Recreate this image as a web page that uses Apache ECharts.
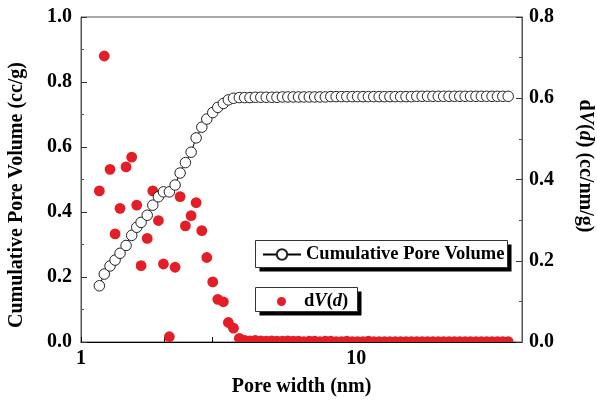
<!DOCTYPE html>
<html>
<head>
<meta charset="utf-8">
<script src="https://cdn.jsdelivr.net/npm/echarts@6/dist/echarts.min.js"></script>
<style>
  html, body { margin: 0; padding: 0; background: #fff; }
  #chart { width: 597px; height: 408px; }
</style>
</head>
<body>
<div id="chart"></div>
<script>
// Pore width (nm) of each point of the distribution
const poreWidth = [
  1.166, 1.215, 1.275, 1.33, 1.386, 1.458, 1.528, 1.594, 1.653, 1.74,
  1.823, 1.911, 1.993, 2.094, 2.197, 2.291, 2.395, 2.512, 2.62, 2.747,
  2.864, 3.01, 3.14, 3.29, 3.43, 3.58, 3.76, 3.93, 4.11, 4.30,
  4.50, 4.71, 4.93, 5.15, 5.39, 5.64, 5.90, 6.17, 6.45, 6.75,
  7.06, 7.38, 7.72, 8.08, 8.45, 8.84, 9.24, 9.67, 10.11, 10.58,
  11.07, 11.57, 12.11, 12.66, 13.25, 13.86, 14.49, 15.16, 15.86, 16.59,
  17.35, 18.15, 18.98, 19.86, 20.77, 21.73, 22.73, 23.77, 24.87, 26.01,
  27.21, 28.46, 29.77, 31.14, 32.57, 34.07, 35.64
];

// Cumulative pore volume (cc/g), left axis
const cumulativeVolume = [
  0.173, 0.209, 0.234, 0.252, 0.273, 0.297, 0.328, 0.353, 0.368, 0.390,
  0.421, 0.447, 0.462, 0.462, 0.483, 0.520, 0.552, 0.584, 0.628, 0.661,
  0.686, 0.706, 0.722, 0.734, 0.745, 0.750, 0.752, 0.752, 0.752, 0.753,
  0.753, 0.753, 0.753, 0.753, 0.754, 0.754, 0.754, 0.754, 0.754, 0.754,
  0.754, 0.754, 0.754, 0.755, 0.755, 0.755, 0.755, 0.755, 0.755, 0.755,
  0.755, 0.755, 0.755, 0.755, 0.755, 0.755, 0.755, 0.755, 0.755, 0.756,
  0.756, 0.756, 0.756, 0.756, 0.756, 0.756, 0.756, 0.756, 0.756, 0.756,
  0.756, 0.756, 0.756, 0.756, 0.756, 0.756, 0.756
];

// Differential pore volume dV(d) (cc/nm/g), right axis
const dVd = [
  0.372, 0.704, 0.425, 0.266, 0.329, 0.431, 0.455, 0.337, 0.188, 0.255,
  0.372, 0.299, 0.192, 0.013, 0.184, 0.358, 0.286, 0.311, 0.343, 0.274,
  0.208, 0.148, 0.105, 0.099, 0.048, 0.034, 0.009, 0.004, 0.003, 0.004,
  0.003, 0.002, 0.003, 0.002, 0.002, 0.003, 0.002, 0.002, 0.001, 0.002,
  0.002, 0.001, 0.002, 0.002, 0.001, 0.001, 0.002, 0.001, 0.001, 0.001,
  0.002, 0.001, 0.001, 0.001, 0.001, 0.001, 0.001, 0.001, 0.001, 0.001,
  0.001, 0.001, 0.001, 0.001, 0.001, 0.001, 0.001, 0.001, 0.001, 0.001,
  0.001, 0.001, 0.001, 0.001, 0.001, 0.001, 0.001
];

// Axis ticks and labels
const xTickValues = [1, 2, 3, 10];
const xLabelValues = [1, 10];
const leftAxisRange = [0, 1.0];
const rightAxisRange = [0, 0.8];

const seriesNames = ['Cumulative Pore Volume', 'dV(d)'];

const FONT = 'Liberation Serif, Times New Roman, serif';
const RED = '#e41e26';
const bold = { fontFamily: FONT, fontWeight: 'bold', color: '#000' };

const cumulativePoints = poreWidth.map((w, i) => [w, cumulativeVolume[i]]);
const dVPoints = poreWidth.map((w, i) => [w, dVd[i]]);

const chart = echarts.init(document.getElementById('chart'), null, { renderer: 'canvas' });

// Legend panels: a solid black offset rectangle under a white bordered one
function legendPanel(x, y, w, h) {
  return [
    { type: 'rect', z: 10, shape: { x: x + 4, y: y + 4, width: w, height: h }, style: { fill: '#000' } },
    { type: 'rect', z: 11, shape: { x: x, y: y, width: w, height: h }, style: { fill: '#fff', stroke: '#333', lineWidth: 1 } }
  ];
}

const legendCommon = {
  selectedMode: false,
  orient: 'horizontal',
  z: 20,
  backgroundColor: 'transparent',
  borderWidth: 0
};

chart.setOption({
  animation: false,
  backgroundColor: '#fff',
  grid: {
    left: 81, right: 75, top: 17, bottom: 66,
    containLabel: false,
    outerBoundsMode: 'none',
    show: true, borderColor: '#555', borderWidth: 1,
    backgroundColor: 'transparent'
  },
  graphic: legendPanel(255.5, 240.5, 252, 27).concat(legendPanel(255.5, 287.5, 102, 24)),
  legend: [
    Object.assign({}, legendCommon, {
      data: [seriesNames[0]],
      left: 255, top: 240,
      padding: [5, 6, 5, 7],
      itemWidth: 38, itemHeight: 13,
      textStyle: Object.assign({ fontSize: 18.5 }, bold)
    }),
    Object.assign({}, legendCommon, {
      data: [{ name: seriesNames[1], icon: 'circle' }],
      left: 255, top: 288,
      padding: [4, 4, 3, 22],
      itemWidth: 9, itemHeight: 9,
      formatter: () => '{s|}{b|d}{i|V}{b|(}{i|d}{b|)}',
      textStyle: Object.assign({
        fontSize: 18.5,
        rich: {
          s: { width: 13 },
          b: Object.assign({ fontSize: 18.5 }, bold),
          i: Object.assign({ fontSize: 18.5, fontStyle: 'italic' }, bold)
        }
      }, bold)
    })
  ],
  xAxis: {
    type: 'log', logBase: 10, min: 1, max: 40,
    name: 'Pore width (nm)', nameLocation: 'middle', nameGap: 35,
    nameTextStyle: Object.assign({ fontSize: 20 }, bold),
    axisLine: { lineStyle: { color: '#000', width: 1.2 } },
    axisTick: { inside: true, length: 5, customValues: xTickValues, lineStyle: { color: '#000' } },
    minorTick: { show: false },
    splitLine: { show: false },
    axisLabel: Object.assign({
      fontSize: 20, margin: 7, customValues: xLabelValues,
      formatter: v => (xLabelValues.some(t => Math.abs(t - v) < 1e-6) ? String(Math.round(v)) : '')
    }, bold)
  },
  yAxis: [
    {
      type: 'value', min: leftAxisRange[0], max: leftAxisRange[1], interval: 0.2,
      name: 'Cumulative Pore Volume (cc/g)', nameLocation: 'middle', nameGap: 54,
      nameTextStyle: Object.assign({ fontSize: 20, padding: [0, 31, 0, 0] }, bold),
      axisLine: { show: true, lineStyle: { color: '#555' } },
      axisTick: { inside: true, length: 6, lineStyle: { color: '#333' } },
      minorTick: { show: true, splitNumber: 2, length: 3, lineStyle: { color: '#555' } },
      splitLine: { show: false },
      axisLabel: Object.assign({ fontSize: 20, margin: 9, formatter: v => v.toFixed(1) }, bold)
    },
    {
      type: 'value', min: rightAxisRange[0], max: rightAxisRange[1], interval: 0.2,
      position: 'right',
      name: '{t|d}{it|V}{t|(}{it|d}{t|) (cc/nm/g)}', nameLocation: 'middle', nameGap: 53,
      nameRotate: -90,
      nameTextStyle: Object.assign({
        fontSize: 20, padding: [0, 27, 0, 0],
        rich: {
          t: Object.assign({ fontSize: 20 }, bold),
          it: Object.assign({ fontSize: 20, fontStyle: 'italic' }, bold)
        }
      }, bold),
      axisLine: { show: true, lineStyle: { color: '#555' } },
      axisTick: { inside: true, length: 6, lineStyle: { color: '#333' } },
      minorTick: { show: true, splitNumber: 2, length: 3, lineStyle: { color: '#555' } },
      splitLine: { show: false },
      axisLabel: Object.assign({ fontSize: 20, margin: 7, formatter: v => v.toFixed(1) }, bold)
    }
  ],
  series: [
    {
      name: seriesNames[1],
      type: 'custom',
      yAxisIndex: 1,
      clip: true,
      data: dVPoints,
      encode: { x: 0, y: 1 },
      itemStyle: { color: RED },
      z: 2,
      renderItem: (params, api) => {
        const p = api.coord([api.value(0), api.value(1)]);
        return {
          type: 'circle',
          shape: { cx: p[0], cy: p[1], r: 5.4 },
          style: { fill: RED }
        };
      }
    },
    {
      name: seriesNames[0],
      type: 'line',
      yAxisIndex: 0,
      data: cumulativePoints,
      symbol: 'circle',
      symbolSize: 10.5,
      showAllSymbol: true,
      z: 3,
      lineStyle: { color: '#000', width: 1 },
      itemStyle: { color: '#fff', borderColor: '#222', borderWidth: 1 }
    }
  ]
});
</script>
</body>
</html>
